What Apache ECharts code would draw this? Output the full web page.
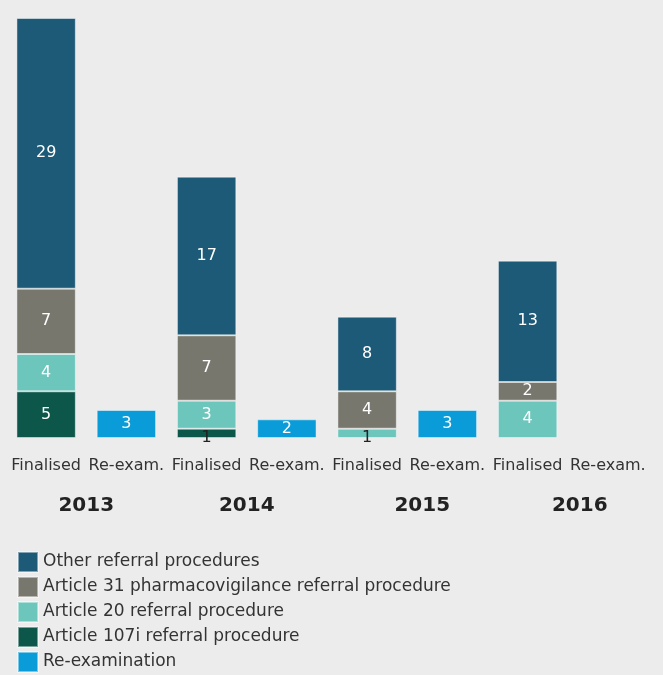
<!DOCTYPE html>
<html>
<head>
<meta charset="utf-8">
<script src="https://cdn.jsdelivr.net/npm/echarts@6/dist/echarts.min.js"></script>
<style>
  html, body { margin: 0; padding: 0; background: #ececec; }
  #chart { width: 663px; height: 675px; }
</style>
</head>
<body>
<div id="chart"></div>
<script>
// categories (bottom axis) and year groups
const categories = ['Finalised', 'Re-exam.', 'Finalised', 'Re-exam.', 'Finalised', 'Re-exam.', 'Finalised', 'Re-exam.']
const years = ['2013', '2014', '2015', '2016']

// series values, one per category (null = no bar)
const art107i = [5, null, 1, null, null, null, null, null]
const art20 = [4, null, 3, null, 1, null, 4, null]
const art31 = [7, null, 7, null, 4, null, 2, null]
const other = [29, null, 17, null, 8, null, 13, null]
const reExam = [null, 3, null, 2, null, 3, null, null]

const colors = {
  other: '#1d5a77',
  art31: '#78776d',
  art20: '#6cc6bc',
  art107i: '#0c574a',
  reExam: '#0a9cd8'
}

const chart = echarts.init(document.getElementById('chart'))

const fontFamily = 'DejaVu Sans, Verdana, sans-serif'

// small values sit under the thin bar in dark text
const toData = (arr) => arr.map(v => {
  if (v === 1) {
    return { value: v, label: { color: '#222', offset: [0, 5] } }
  }
  return v
})

const makeSeries = (name, arr, color) => ({
  name,
  type: 'bar',
  stack: 'total',
  barCategoryGap: '26%',
  data: toData(arr),
  itemStyle: {
    color,
    borderColor: 'rgba(255,255,255,0.45)',
    borderWidth: 1
  },
  label: {
    show: true,
    position: 'inside',
    color: '#fff',
    fontSize: 16,
    fontFamily
  }
})

const option = {
  backgroundColor: '#ececec',
  animation: false,
  grid: {
    left: 6,
    right: 15,
    top: 18,
    bottom: 237,
    containLabel: false
  },
  legend: {
    orient: 'vertical',
    left: 17,
    top: 551,
    padding: 0,
    height: 130,
    itemWidth: 20,
    itemHeight: 20,
    itemGap: 3,
    icon: 'rect',
    selectedMode: false,
    textStyle: { fontSize: 17, color: '#333', fontFamily },
    data: [
      'Other referral procedures',
      'Article 31 pharmacovigilance referral procedure',
      'Article 20 referral procedure',
      'Article 107i referral procedure',
      'Re-examination'
    ]
  },
  xAxis: [
    {
      type: 'category',
      data: categories,
      axisLine: { show: false },
      axisTick: { show: false },
      axisLabel: {
        interval: 0,
        margin: 20,
        fontSize: 16,
        color: '#333',
        fontFamily
      }
    },
    {
      type: 'category',
      position: 'bottom',
      offset: 50,
      data: years.map((y, i) => ({
        value: y,
        textStyle: { padding: [0, 0, 0, [0, 0, 30, 24][i]] }
      })),
      axisLine: { show: false },
      axisTick: { show: false },
      axisLabel: {
        interval: 0,
        fontSize: 20,
        fontWeight: 'bold',
        color: '#222',
        fontFamily
      }
    }
  ],
  yAxis: {
    type: 'value',
    min: 0,
    max: 45,
    show: false
  },
  series: [
    makeSeries('Article 107i referral procedure', art107i, colors.art107i),
    makeSeries('Article 20 referral procedure', art20, colors.art20),
    makeSeries('Article 31 pharmacovigilance referral procedure', art31, colors.art31),
    makeSeries('Other referral procedures', other, colors.other),
    makeSeries('Re-examination', reExam, colors.reExam)
  ]
}

chart.setOption(option)
</script>
</body>
</html>
